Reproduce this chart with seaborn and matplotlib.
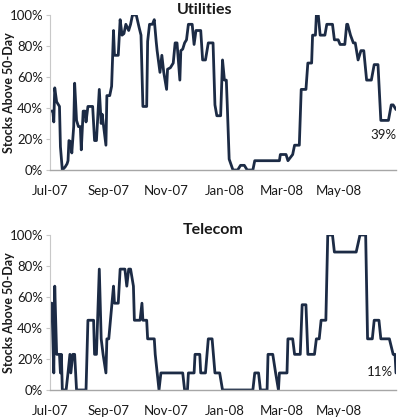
import matplotlib
matplotlib.use("Agg")
import matplotlib.pyplot as plt
import seaborn as sns
import pandas as pd

# ---------------- data ----------------
util_dates = [
    "2007-07-01", "2007-07-04", "2007-07-05", "2007-07-06", "2007-07-08", "2007-07-11",
    "2007-07-12", "2007-07-14", "2007-07-17", "2007-07-19", "2007-07-20", "2007-07-21",
    "2007-07-23", "2007-07-24", "2007-07-26", "2007-07-27", "2007-07-29", "2007-07-31",
    "2007-08-02", "2007-08-03", "2007-08-05", "2007-08-07", "2007-08-08", "2007-08-10",
    "2007-08-15", "2007-08-17", "2007-08-19", "2007-08-22", "2007-08-24", "2007-08-25",
    "2007-08-29", "2007-08-30", "2007-09-02", "2007-09-04", "2007-09-06", "2007-09-07",
    "2007-09-11", "2007-09-13", "2007-09-15", "2007-09-17", "2007-09-19", "2007-09-22",
    "2007-09-24", "2007-09-26", "2007-09-30", "2007-10-03", "2007-10-05", "2007-10-07",
    "2007-10-11", "2007-10-12", "2007-10-14", "2007-10-17", "2007-10-19", "2007-10-21",
    "2007-10-22", "2007-10-25", "2007-10-27", "2007-10-29", "2007-11-01", "2007-11-02",
    "2007-11-05", "2007-11-08", "2007-11-10", "2007-11-12", "2007-11-15", "2007-11-16",
    "2007-11-18", "2007-11-20", "2007-11-22", "2007-11-24", "2007-11-28", "2007-11-30",
    "2007-12-02", "2007-12-07", "2007-12-09", "2007-12-12", "2007-12-15", "2007-12-20",
    "2007-12-22", "2007-12-24", "2007-12-28", "2007-12-30", "2008-01-01", "2008-01-03",
    "2008-01-04", "2008-01-06", "2008-01-10", "2008-01-15", "2008-01-18", "2008-01-22",
    "2008-01-25", "2008-01-31", "2008-02-02", "2008-02-28", "2008-02-29", "2008-03-06",
    "2008-03-08", "2008-03-13", "2008-03-15", "2008-03-20", "2008-03-22", "2008-03-27",
    "2008-03-29", "2008-04-02", "2008-04-03", "2008-04-06", "2008-04-07", "2008-04-09",
    "2008-04-11", "2008-04-16", "2008-04-18", "2008-04-24", "2008-04-26", "2008-04-30",
    "2008-05-02", "2008-05-07", "2008-05-09", "2008-05-10", "2008-05-13", "2008-05-16",
    "2008-05-18", "2008-05-21", "2008-05-24", "2008-05-27", "2008-05-30", "2008-06-04",
    "2008-06-07", "2008-06-11", "2008-06-14", "2008-06-22", "2008-06-25", "2008-06-27",
    "2008-06-30",
]
util_values = [
    38, 38, 31, 53, 44, 41,
    15, 0, 2, 4, 6, 19,
    18, 11, 28, 56, 32, 28,
    28, 13, 38, 38, 31, 41,
    41, 19, 19, 52, 30, 36,
    16, 48, 48, 54, 90, 74,
    74, 97, 87, 88, 94, 90,
    94, 100, 100, 92, 87, 41,
    41, 83, 94, 94, 97, 83,
    77, 63, 74, 63, 52, 65,
    66, 69, 82, 82, 58, 77,
    78, 82, 84, 94, 94, 81,
    90, 90, 71, 71, 82, 82,
    42, 35, 35, 71, 58, 58,
    42, 7, 0, 0, 3, 3,
    0, 0, 6, 6, 10, 10,
    6, 10, 16, 16, 52, 52,
    69, 69, 87, 87, 100, 100,
    87, 87, 94, 94, 84, 84,
    81, 81, 94, 94, 87, 82,
    82, 71, 77, 77, 58, 58,
    68, 68, 32, 32, 42, 42,
    39,
]

tel_dates = [
    "2007-07-01", "2007-07-03", "2007-07-05", "2007-07-06", "2007-07-08", "2007-07-11",
    "2007-07-12", "2007-07-13", "2007-07-14", "2007-07-18", "2007-07-20", "2007-07-22",
    "2007-07-23", "2007-07-25", "2007-07-27", "2007-07-29", "2007-08-08", "2007-08-10",
    "2007-08-16", "2007-08-17", "2007-08-19", "2007-08-22", "2007-08-24", "2007-08-26",
    "2007-08-29", "2007-08-30", "2007-09-01", "2007-09-06", "2007-09-07", "2007-09-11",
    "2007-09-13", "2007-09-18", "2007-09-20", "2007-09-22", "2007-09-24", "2007-09-27",
    "2007-09-28", "2007-10-04", "2007-10-06", "2007-10-07", "2007-10-11", "2007-10-12",
    "2007-10-19", "2007-10-20", "2007-10-24", "2007-10-26", "2007-11-18", "2007-11-20",
    "2007-11-23", "2007-11-24", "2007-11-30", "2007-12-01", "2007-12-06", "2007-12-07",
    "2007-12-12", "2007-12-15", "2007-12-19", "2007-12-22", "2007-12-27", "2007-12-30",
    "2008-01-31", "2008-02-02", "2008-02-06", "2008-02-08", "2008-02-15", "2008-02-16",
    "2008-02-21", "2008-02-24", "2008-02-27", "2008-02-28", "2008-03-07", "2008-03-08",
    "2008-03-13", "2008-03-15", "2008-03-21", "2008-03-23", "2008-03-27", "2008-03-29",
    "2008-04-05", "2008-04-07", "2008-04-10", "2008-04-12", "2008-04-17", "2008-04-19",
    "2008-04-24", "2008-04-26", "2008-05-19", "2008-05-23", "2008-05-29", "2008-05-31",
    "2008-06-05", "2008-06-07", "2008-06-12", "2008-06-14", "2008-06-23", "2008-06-27",
    "2008-06-29", "2008-06-30",
]
tel_values = [
    56, 56, 11, 67, 23, 23,
    11, 23, 0, 0, 11, 23,
    11, 23, 23, 0, 0, 45,
    45, 23, 23, 78, 33, 23,
    11, 33, 33, 67, 56, 56,
    78, 78, 67, 78, 78, 67,
    45, 45, 56, 45, 45, 33,
    33, 23, 0, 11, 11, 0,
    0, 11, 11, 23, 23, 11,
    11, 33, 33, 11, 11, 0,
    0, 11, 11, 0, 0, 23,
    23, 11, 0, 11, 11, 33,
    33, 23, 23, 55, 55, 23,
    23, 33, 33, 45, 45, 100,
    100, 89, 89, 100, 100, 33,
    33, 45, 45, 33, 33, 23,
    23, 11,
]

panel_titles = ["Utilities", "Telecom"]
last_labels = ["39%", "11%"]
y_ticks = [0, 20, 40, 60, 80, 100]
y_tick_labels = ["0%", "20%", "40%", "60%", "80%", "100%"]
x_tick_dates = ["2007-07-01", "2007-09-01", "2007-11-01", "2008-01-01", "2008-03-01", "2008-05-01"]
x_tick_labels = ["Jul-07", "Sep-07", "Nov-07", "Jan-08", "Mar-08", "May-08"]
y_label = "Stocks Above 50-Day"

# ---------------- drawing ----------------
sns.set_theme(style="white")
plt.rcParams["font.family"] = ["Lato", "DejaVu Sans"]

LINE = "#1c2b45"
TXT = "#1a1a1a"

fig = plt.figure(figsize=(4.0, 4.18), dpi=100)
ax_top = fig.add_axes([0.125, 0.5933, 0.865, 0.3708])
ax_bot = fig.add_axes([0.125, 0.0670, 0.865, 0.3708])

series = [
    (ax_top, util_dates, util_values),
    (ax_bot, tel_dates, tel_values),
]
label_pos = [("2008-06-17", 22.5), ("2008-06-13", 11.5)]
title_x = [0.448, 0.471]

for i, (ax, dts, vals) in enumerate(series):
    df = pd.DataFrame({"date": pd.to_datetime(dts), "value": vals})
    sns.lineplot(data=df, x="date", y="value", ax=ax, color=LINE, linewidth=2.0,
                 estimator=None, sort=False)
    ax.set_xlim(pd.Timestamp("2007-07-01"), pd.Timestamp("2008-06-30"))
    ax.set_ylim(0, 100)
    ax.set_yticks(y_ticks)
    ax.set_yticklabels(y_tick_labels, fontsize=9.5, color=TXT)
    ax.set_xticks(pd.to_datetime(x_tick_dates))
    ax.set_xticklabels(x_tick_labels, fontsize=9.5, color=TXT)
    ax.set_xlabel("")
    ax.set_ylabel(y_label, fontsize=9, fontweight="bold", color=TXT)
    ax.yaxis.set_label_coords(-0.100, 0.5)
    ax.set_title(panel_titles[i], fontsize=11.5, fontweight="bold", color=TXT,
                 x=title_x[i], pad=1)
    for s in ["top", "right"]:
        ax.spines[s].set_visible(False)
    ax.spines["bottom"].set_color("#a6a6a6")
    ax.spines["left"].set_color("#c8c8c8")
    ax.spines["bottom"].set_linewidth(1.0)
    ax.spines["left"].set_linewidth(0.8)
    ax.tick_params(axis="y", length=3, width=0.8, color="#c8c8c8", pad=2, left=True)
    ax.tick_params(axis="x", length=0, pad=11)
    ax.grid(False)
    lx, ly = label_pos[i]
    ax.text(pd.Timestamp(lx), ly, last_labels[i], fontsize=9.5, color=TXT,
            ha="center", va="center")

fig.savefig("out.png", dpi=100)
